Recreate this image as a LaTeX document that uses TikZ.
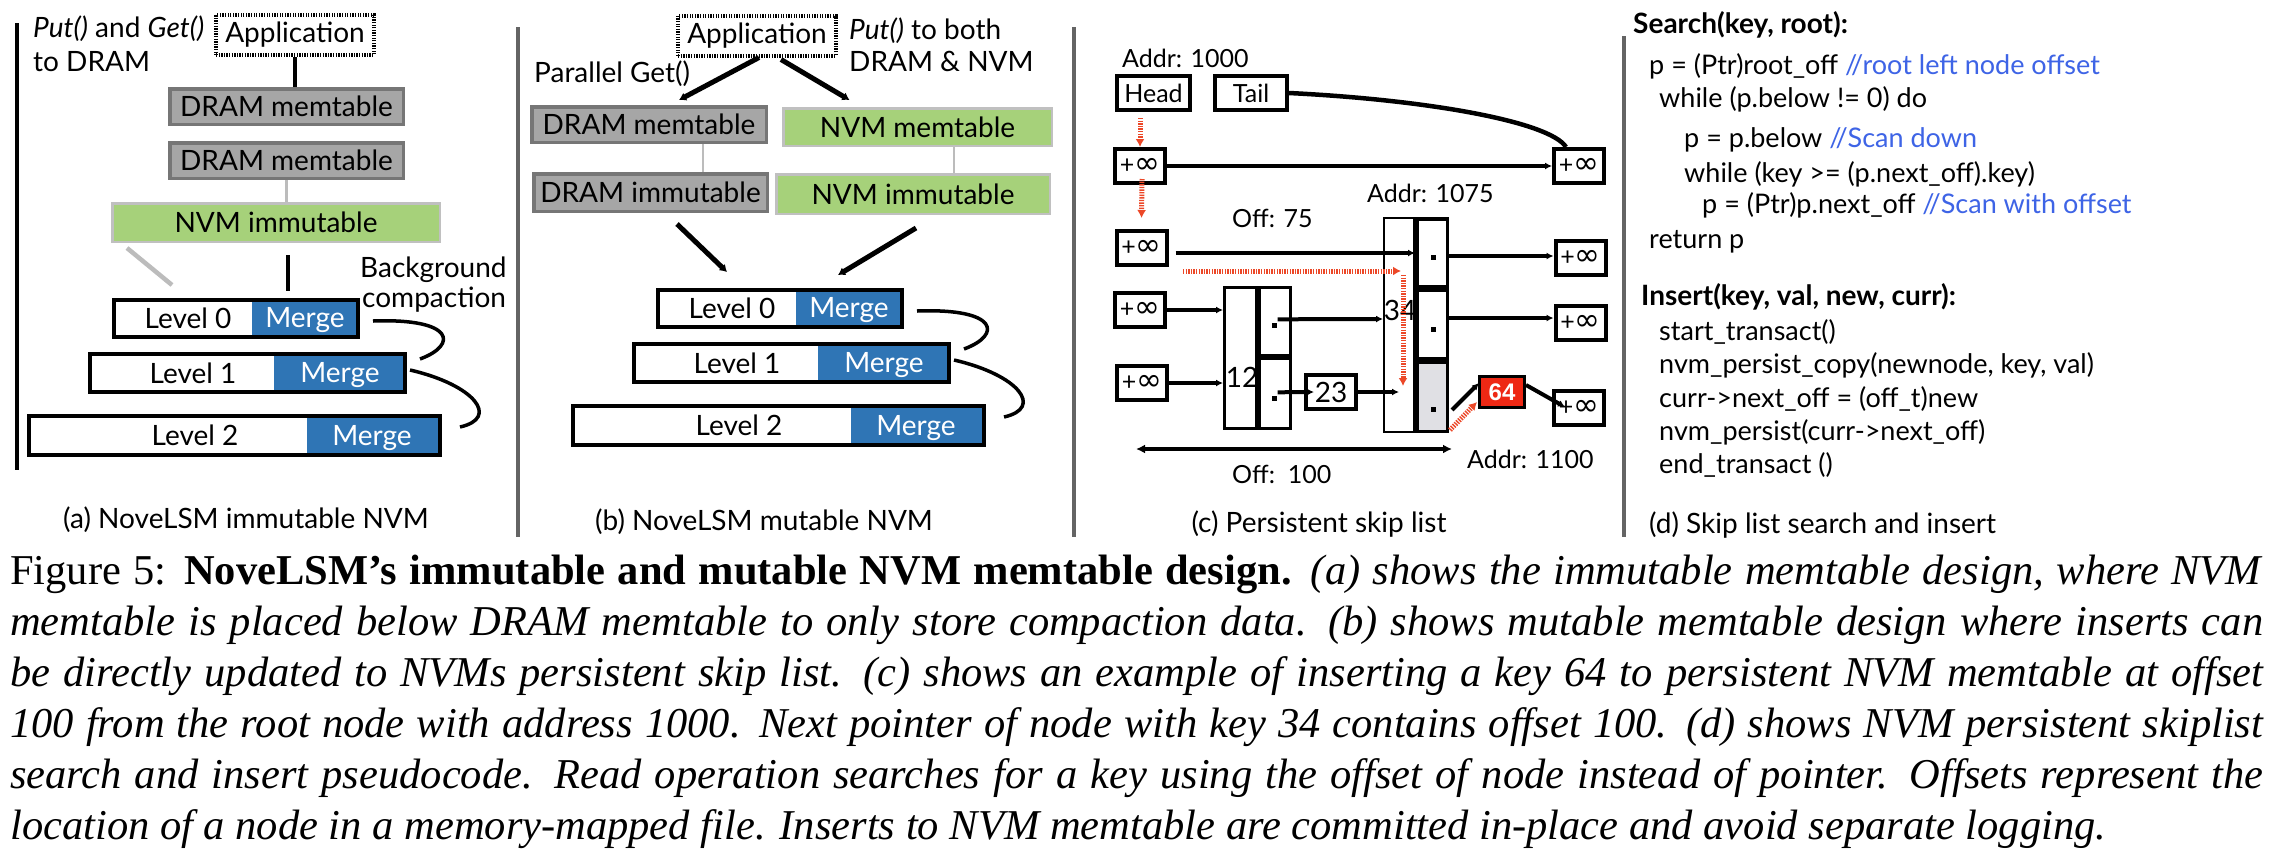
\documentclass[tikz,border=0pt]{standalone}
\usepackage{fontspec}
\setmainfont{Lato}
\newfontfamily\capfont{Liberation Serif}
\newfontfamily\boldsans{Liberation Sans}
\newfontfamily\symfont{DejaVu Sans}
\usetikzlibrary{arrows.meta,calc}
\definecolor{dramfill}{RGB}{166,166,166}
\definecolor{dramborder}{RGB}{118,118,118}
\definecolor{nvmfill}{RGB}{166,209,122}
\definecolor{nvmborder}{RGB}{192,192,192}
\definecolor{mergeblue}{RGB}{47,117,181}
\definecolor{sepgray}{RGB}{100,100,100}
\definecolor{linegray}{RGB}{188,188,188}
\definecolor{redline}{RGB}{236,72,40}
\definecolor{redbox}{RGB}{238,40,20}
\definecolor{cellgray}{RGB}{224,224,228}
\definecolor{codeblue}{RGB}{62,100,230}
\newcommand{\plusinf}{+{\symfont\fontsize{31}{32}\selectfont ∞}}
\begin{document}
\begin{tikzpicture}[x=1pt,y=-1pt,
  every node/.style={inner sep=0pt},
  t28/.style={font=\fontsize{28}{33}\selectfont},
  t25/.style={font=\fontsize{25}{30}\selectfont},
  tcode/.style={anchor=base west, font=\fontsize{27}{32}\selectfont},
  tcodeb/.style={anchor=base west, font=\fontsize{28}{33}\selectfont\bfseries},
  tcap/.style={anchor=base west, font=\capfont\fontsize{42.5}{51}\selectfont},
  appbox/.style={draw, line width=4pt, dash pattern=on 1.3pt off 1.3pt, minimum width=158pt, minimum height=40pt, t28},
  drambox/.style={draw=dramborder, fill=dramfill, line width=3.5pt, t28},
  nvmbox/.style={draw=nvmborder, fill=nvmfill, line width=2.5pt, t28},
  lvframe/.style={draw, line width=4pt},
  conn/.style={line width=4.5pt},
  softconn/.style={draw=linegray, line width=2.5pt},
  arr/.style={line width=4pt, -{Latex[length=7pt,width=7pt]}},
  bigarr/.style={line width=5pt, -{Latex[length=7pt,width=9pt]}},
  redarr/.style={draw=redline, line width=5pt, dash pattern=on 1.4pt off 1.2pt, -{Latex[length=8pt,width=9pt]}},
  skbox/.style={draw, line width=4pt, fill=white, t25, minimum width=50pt, minimum height=34pt},
  colbox/.style={draw, line width=2pt, fill=white},
  cell/.style={draw, line width=3.5pt},
  dot/.style={fill, minimum size=5pt},
  sep/.style={draw=sepgray, line width=4pt},
  curve/.style={line width=3.5pt},
  white text/.style={t28, text=white, anchor=base},
  lvtext/.style={t28, anchor=base}
]
\useasboundingbox (0,0) rectangle (2274,863);
\fill[white] (0,0) rectangle (2274,863);

% ---------------- panel (a) ----------------
\draw[line width=4pt] (17,23) -- (17,470);
\node[t28, anchor=base west] (puta) at (33,37) {\textit{Put()} and \textit{Get()}};
\node[t28, anchor=base west] (todram) at (33,71) {to DRAM};
\node[appbox] (appa) at (295,35) {Application};
\node[drambox, minimum width=233.5pt, minimum height=35.5pt] (dram1a) at (286.5,106.5) {DRAM memtable};
\node[drambox, minimum width=233.5pt, minimum height=35.5pt] (dram2a) at (286.5,160.5) {DRAM memtable};
\node[nvmbox, minimum width=327.5pt, minimum height=38.5pt] (nvma) at (276,222.5) {NVM immutable};
\draw[conn] (appa.south) -- (appa.south |- dram1a.north);
\draw[softconn] (dram2a.south) -- (dram2a.south |- nvma.north);
\coordinate (ga1) at (127,248);
\coordinate (ga2) at (172,285);
\draw[draw=linegray, line width=4.5pt] (ga1) -- (ga2);
\coordinate (ba1) at (288,255);
\coordinate (ba2) at (288,291);
\draw[conn] (ba1) -- (ba2);
\node[t28, anchor=base west] (bga) at (360,277) {Background};
\node[t28, anchor=base west] (cpa) at (362,307) {compaction};

\fill[mergeblue] (252,300) rectangle (358,337);
\node[lvframe, minimum width=244pt, minimum height=37pt] (l0a) at (236,318.5) {};
\fill[mergeblue] (274,354) rectangle (405,392);
\node[lvframe, minimum width=315pt, minimum height=38pt] (l1a) at (247.5,373) {};
\fill[mergeblue] (307,416) rectangle (440,455);
\node[lvframe, minimum width=411pt, minimum height=39pt] (l2a) at (234.5,435.5) {};
\node[lvtext] (l0ta) at (188,328) {Level 0};
\node[white text] (m0a) at (305,327) {Merge};
\node[lvtext] (l1ta) at (193,383) {Level 1};
\node[white text] (m1a) at (340,382) {Merge};
\node[lvtext] (l2ta) at (195,445) {Level 2};
\node[white text] (m2a) at (372,445) {Merge};
\coordinate (ca1) at (373,321);
\coordinate (ca2) at (420,359);
\coordinate (cb1) at (410,370);
\coordinate (cb2) at (460,427);
\draw[curve] (ca1) .. controls (455,318) and (458,345) .. (ca2);
\draw[curve] (cb1) .. controls (475,385) and (500,418) .. (cb2);
\node[t28, anchor=base] (capa) at (246,528) {(a) NoveLSM immutable NVM};

% ---------------- panel (b) ----------------
\draw[sep] (518,27) -- (518,537);
\node[appbox] (appb) at (757,35.5) {Application};
\node[t28, anchor=base west] (putb) at (849,39) {\textit{Put()} to both};
\node[t28, anchor=base west] (bothb) at (849,71) {DRAM \& NVM};
\node[t28, anchor=base west] (parb) at (534,82) {Parallel Get()};
\node[drambox, minimum width=234.5pt, minimum height=35.5pt] (dramb) at (649,124.5) {DRAM memtable};
\node[nvmbox, minimum width=268.5pt, minimum height=37.5pt] (nvmb) at (917.5,127) {NVM memtable};
\node[drambox, minimum width=233.5pt, minimum height=37.5pt] (dramimb) at (650.5,192.5) {DRAM immutable};
\node[nvmbox, minimum width=273.5pt, minimum height=39.5pt] (nvmimb) at (913,194) {NVM immutable};
\draw[softconn] ($(dramb.south)+(54,0)$) -- ($(dramimb.north)+(52.5,0)$);
\draw[softconn] ($(nvmb.south)+(36.5,0)$) -- ($(nvmimb.north)+(41,0)$);

\fill[mergeblue] (796,290) rectangle (902,327);
\node[lvframe, minimum width=244pt, minimum height=37pt] (l0b) at (780,308.5) {};
\fill[mergeblue] (818,344) rectangle (949,382);
\node[lvframe, minimum width=315pt, minimum height=38pt] (l1b) at (791.5,363) {};
\fill[mergeblue] (851,406) rectangle (984,445);
\node[lvframe, minimum width=411pt, minimum height=39pt] (l2b) at (778.5,425.5) {};
\node[lvtext] (l0tb) at (732,318) {Level 0};
\node[white text] (m0b) at (849,317) {Merge};
\node[lvtext] (l1tb) at (737,373) {Level 1};
\node[white text] (m1b) at (884,372) {Merge};
\node[lvtext] (l2tb) at (739,435) {Level 2};
\node[white text] (m2b) at (916,435) {Merge};
\coordinate (cab1) at (917,311);
\coordinate (cab2) at (964,349);
\coordinate (cbb1) at (954,360);
\coordinate (cbb2) at (1004,417);
\draw[curve] (cab1) .. controls (999,308) and (1002,335) .. (cab2);
\draw[curve] (cbb1) .. controls (1019,375) and (1044,408) .. (cbb2);

\draw[bigarr] ($(appb.south)+(2,0)$) -- ($(dramb.north)+(30,-5)$);
\draw[bigarr] ($(appb.south)+(24,2)$) -- ($(nvmb.north)+(-68,-7)$);
\draw[bigarr] ($(dramimb.south)+(26.5,11)$) -- ($(l0b.north)+(-53,-16)$);
\draw[bigarr] ($(nvmimb.south)+(3,13)$) -- ($(l0b.north)+(58,-13)$);
\node[t28, anchor=base] (capb) at (764,530) {(b) NoveLSM mutable NVM};

% ---------------- panel (c) ----------------
\draw[sep] (1074,27) -- (1074,537);
\node[t25, anchor=base west] (addr1000) at (1122,67) {Addr: 1000};
\node[skbox, minimum width=73pt] (head) at (1153.5,93) {Head};
\node[skbox, minimum width=72pt] (tail) at (1251,93) {Tail};
\node[skbox] (pl1) at (1140,166) {\plusinf};
\node[skbox] (pr1) at (1579,166) {\plusinf};
\node[skbox] (pl2) at (1141.5,248) {\plusinf};
\node[skbox] (pr2) at (1580.5,257.5) {\plusinf};
\node[skbox] (pl3) at (1140,310) {\plusinf};
\node[skbox] (pr3) at (1580.5,322.5) {\plusinf};
\node[skbox] (pl4) at (1142,383) {\plusinf};
\node[skbox] (pr4) at (1579,408) {\plusinf};
\node[t25, anchor=base west] (addr1075) at (1367,202) {Addr: 1075};
\node[t25, anchor=base west] (off75) at (1232,227) {Off: 75};
\node[t25, anchor=base west] (off100) at (1232,483) {Off:\ \ 100};
\node[t25, anchor=base west] (addr1100) at (1467,468) {Addr: 1100};

% node 12
\node[colbox, line width=3pt, minimum width=32pt, minimum height=141pt] (n12l) at (1240.5,358) {};
\node[cell, line width=3pt, fill=white, minimum width=31pt, minimum height=68pt] (c12a) at (1275,321.5) {};
\node[cell, line width=3pt, fill=white, minimum width=31pt, minimum height=70pt] (c12b) at (1275,393.5) {};
\node[t28] (lab12) at (1242,377) {12};
\node[dot] (d12a) at (1274,325) {};
\node[dot] (d12b) at (1274,398) {};
% node 34
\node[colbox, minimum width=30pt, minimum height=214pt] (n34l) at (1399,325) {};
\node[cell, fill=white, minimum width=30.5pt, minimum height=67.5pt] (c34a) at (1432,252.5) {};
\node[cell, fill=white, minimum width=30.5pt, minimum height=68.5pt] (c34b) at (1432,324) {};
\node[cell, fill=cellgray, minimum width=30.5pt, minimum height=69.5pt] (c34c) at (1432,396.5) {};
\node[t28] (lab34) at (1400,310) {34};
\node[dot] (d34a) at (1433,257) {};
\node[dot] (d34b) at (1433,329) {};
\node[dot] (d34c) at (1433,409) {};
% node 23 and 64
\node[skbox, t28, minimum width=50pt, minimum height=34pt] (n23) at (1331,392) {23};
\node[draw, line width=3pt, fill=redbox, minimum width=45pt, minimum height=31pt, text=white, font=\boldsans\bfseries\fontsize{24}{28}\selectfont] (n64) at (1502,392) {64};

% connectors (c)
\draw[line width=4.5pt] (tail.east) .. controls (1430,100) and (1550,122) .. ($(pr1.north)+(-13,0)$);
\draw[arr] (pl1) -- (pr1);
\draw[arr] ($(pl2.east)+(7,5)$) -- (n34l.east |- 0,253);
\draw[arr] (c34a.east |- 0,256) -- (pr2.west |- 0,256);
\draw[arr] (pl3.east) -- (n12l.west |- pl3.east);
\draw[arr] ($(d12a.north east)+(1,-3)$) -- (n34l.west |- 0,319);
\draw[arr] (c34b.east |- 0,318) -- (pr3.west |- 0,318);
\draw[arr] (pl4.east) -- (n12l.west |- pl4.east);
\draw[arr] ($(d12b.north east)+(1,-3)$) -- ($(n23.west)+(10,0)$);
\draw[arr] (n23.east) -- (n34l |- n23.east);
\draw[arr] ($(c34c.east)+(3,13.5)$) -- ($(n64.west)+(1,-9)$);
\draw[arr] ($(n64.east)+(0,-7)$) -- ($(pr4.west)+(13,-1)$);
\coordinate (offL) at (1136,449);
\coordinate (offR) at (1452,449);
\draw[line width=4pt, {Latex[length=9pt,width=9pt]}-{Latex[length=9pt,width=9pt]}] (offL) -- (offR);
% red search path
\draw[redarr] ($(pl1.north |- head.south)+(0,6)$) -- (pl1.north);
\draw[redarr] ($(pl1.south)+(2,-6)$) -- ($(pl2.north)+(0,-11)$);
\coordinate (rs1) at (1183,271);
\coordinate (rs2) at (1401,271);
\coordinate (rs3) at (1403,275);
\coordinate (rs4) at (1403,386);
\draw[redarr] (rs1) -- (rs2);
\draw[redarr] (rs3) -- (rs4);
\draw[redarr] ($(c34c.south east)+(1,-3)$) -- ($(n64.west)+(-1,10)$);
\node[t28, anchor=base] (capc) at (1319,532) {(c) Persistent skip list};

% ---------------- panel (d) ----------------
\draw[sep] (1624,36) -- (1624,537);
\node[tcodeb] (srch) at (1633,33) {Search(key, root):};
\node[tcode] (s1) at (1649,74) {p = (Ptr)root\_off \textcolor{codeblue}{//root left node offset}};
\node[tcode] (s2) at (1659,107) {while (p.below != 0) do};
\node[tcode] (s3) at (1684,147) {p = p.below \textcolor{codeblue}{//Scan down}};
\node[tcode] (s4) at (1684,182) {while (key >= (p.next\_off).key)};
\node[tcode] (s5) at (1702,213) {p = (Ptr)p.next\_off \textcolor{codeblue}{//Scan with offset}};
\node[tcode] (s6) at (1649,248) {return p};
\node[tcodeb] (ins) at (1641,305) {Insert(key, val, new, curr):};
\node[tcode] (i1) at (1659,340) {start\_transact()};
\node[tcode] (i2) at (1659,373) {nvm\_persist\_copy(newnode, key, val)};
\node[tcode] (i3) at (1659,407) {curr->next\_off = (off\_t)new};
\node[tcode] (i4) at (1659,440) {nvm\_persist(curr->next\_off)};
\node[tcode] (i5) at (1659,473) {end\_transact ()};
\node[t28, anchor=base west] (capd) at (1649,533) {(d) Skip list search and insert};

% ---------------- caption ----------------
\node[tcap] (cap1) at (10,584) {\makebox[2253pt][s]{Figure 5: \textbf{NoveLSM’s immutable and mutable NVM memtable design.} \textit{(a) shows the immutable memtable design, where NVM}}};
\node[tcap] (cap2) at (10,635) {\makebox[2253pt][s]{\itshape memtable is placed below DRAM memtable to only store compaction data. (b) shows mutable memtable design where inserts can}};
\node[tcap] (cap3) at (10,686) {\makebox[2253pt][s]{\itshape be directly updated to NVMs persistent skip list. (c) shows an example of inserting a key 64 to persistent NVM memtable at offset}};
\node[tcap] (cap4) at (10,737) {\makebox[2253pt][s]{\itshape 100 from the root node with address 1000. Next pointer of node with key 34 contains offset 100. (d) shows NVM persistent skiplist}};
\node[tcap] (cap5) at (10,788) {\makebox[2253pt][s]{\itshape search and insert pseudocode. Read operation searches for a key using the offset of node instead of pointer. Offsets represent the}};
\node[tcap] (cap6) at (10,839) {\itshape location of a node in a memory-mapped file. Inserts to NVM memtable are committed in-place and avoid separate logging.};
\end{tikzpicture}
\end{document}
